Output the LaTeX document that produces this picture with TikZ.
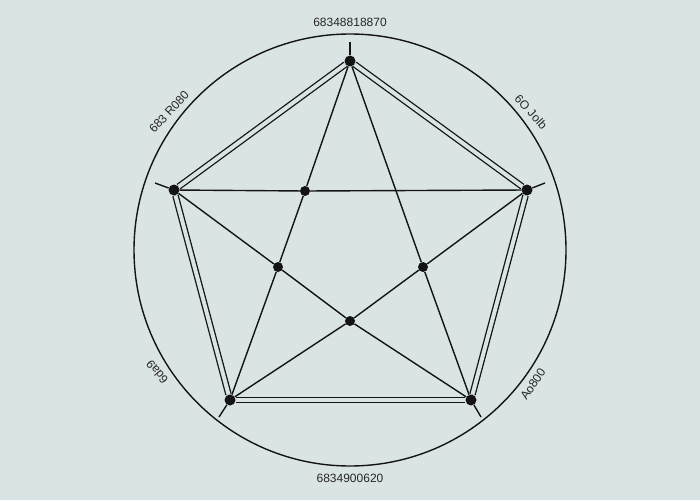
\documentclass[tikz,border=0pt]{standalone}
\usepackage{fontspec}
\setmainfont{Liberation Sans}
\definecolor{paper}{RGB}{219,228,229}
\definecolor{ink}{RGB}{20,20,20}

\tikzstyle{vertex}=[circle,fill=ink,inner sep=0pt,minimum size=11pt]
\tikzstyle{crossing}=[circle,fill=ink,inner sep=0pt,minimum size=10pt]
\tikzstyle{rim}=[draw=ink,line width=1.3pt,double=paper,double distance=4pt]
\tikzstyle{chord}=[draw=ink,line width=1.4pt]
\tikzstyle{lbl}=[font=\fontsize{12}{14}\selectfont,text=black!85]

\begin{document}
\begin{tikzpicture}[x=1pt,y=-1pt]
  \fill[paper] (0,0) rectangle (700,500);
  \useasboundingbox (0,0) rectangle (700,500);

  \draw[chord] (350,250) circle (216);

  \node[vertex] (top) at (350,61) {};
  \node[vertex] (ul) at (174,190) {};
  \node[vertex] (ur) at (527,190) {};
  \node[vertex] (ll) at (230,400) {};
  \node[vertex] (lr) at (471,400) {};

  \node[crossing] (c1) at (305,191) {};
  \node[crossing] (c2) at (278,267) {};
  \node[crossing] (c3) at (423,267) {};
  \node[crossing] (c4) at (350,321) {};

  % outer pentagon
  \draw[rim] (top) -- (ur);
  \draw[rim] (ur) -- (lr);
  \draw[rim] (lr) -- (ll);
  \draw[rim] (ll) -- (ul);
  \draw[rim] (ul) -- (top);

  % star
  \draw[chord] (top) -- (c1) -- (c2) -- (ll);
  \draw[chord] (top) -- (c3) -- (lr);
  \draw[chord] (ul) -- (c1) -- (ur);
  \draw[chord] (ul) -- (c2) -- (c4) -- (lr);
  \draw[chord] (ur) -- (c3) -- (c4) -- (ll);

  % ticks
  \coordinate (ttop) at (350,42);
  \coordinate (tul) at (155,183);
  \coordinate (tur) at (545,183);
  \coordinate (tll) at (219,417);
  \coordinate (tlr) at (481,417);
  \draw[chord] (top) -- (ttop);
  \draw[chord] (ul) -- (tul);
  \draw[chord] (ur) -- (tur);
  \draw[chord] (ll) -- (tll);
  \draw[chord] (lr) -- (tlr);

  \node[lbl] (ntop) at (350,22) {68348818870};
  \node[lbl] (nbot) at (350,478) {6834900620};
  \node[lbl,rotate=47] (nul) at (169,112) {683 R080};
  \node[lbl,rotate=-47] (nur) at (531,112) {6O Jolb};
  \node[lbl,rotate=130] (nll) at (157,372) {6da9};
  \node[lbl,rotate=56] (nlr) at (533,384) {Ao800};
\end{tikzpicture}
\end{document}
